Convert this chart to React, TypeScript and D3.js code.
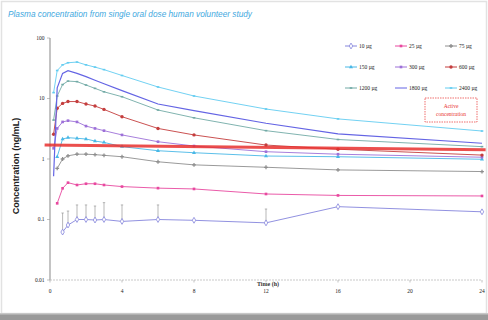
import React from 'react';
import * as d3 from 'd3';

// sampling times (h)
const times = [0.2, 0.4, 0.7, 1, 1.5, 2, 2.5, 3, 4, 6, 8, 12, 16, 24];

// mean plasma concentrations (ng/mL) per dose, null = not sampled
const dose10 = [null, null, 0.062, 0.081, 0.1, 0.1, 0.098, 0.1, 0.093, 0.1, 0.097, 0.088, 0.163, 0.134];
const dose10Upper = [null, null, 0.128, 0.138, 0.174, 0.174, 0.167, 0.19, 0.174, 0.174, null, 0.149, null, null];
const dose25 = [null, 0.185, 0.328, 0.406, 0.372, 0.39, 0.39, 0.372, 0.35, 0.33, 0.32, 0.264, 0.25, 0.245];
const dose75 = [null, 0.7, 1.0, 1.13, 1.2, 1.2, 1.18, 1.15, 1.09, 0.9, 0.8, 0.73, 0.66, 0.62];
const dose150 = [null, 1.09, 2.14, 2.25, 2.2, 2.14, 1.98, 1.88, 1.6, 1.37, 1.27, 1.12, 1.09, 0.99];
const dose300 = [1.5, 3.2, 4.1, 4.3, 4.1, 3.5, 3.2, 2.94, 2.5, 1.93, 1.64, 1.32, 1.2, 1.07];
const dose600 = [2.56, 6.9, 8.3, 8.9, 8.9, 8.1, 7.5, 6.6, 5.0, 3.2, 2.5, 1.7, 1.45, 1.16];
const dose1200 = [4.4, 11, 17, 19.4, 19, 16.7, 14.7, 12.9, 10.7, 6.45, 4.8, 2.94, 2.1, 1.6];
const dose1800 = [0.52, 15, 26, 28.8, 26, 23, 20, 17.5, 13.5, 8.1, 6.3, 3.9, 2.6, 1.82];
const dose2400 = [12.5, 29, 36, 39, 40, 36, 33, 30, 24, 15.5, 11, 6.7, 4.6, 2.9];

const seriesNames = ['10 µg', '25 µg', '75 µg', '150 µg', '300 µg', '600 µg', '1200 µg', '1800 µg', '2400 µg'];
const seriesColors = ['#8585dc', '#e8489f', '#8e8e8e', '#48b8e6', '#9d70d8', '#c43d3d', '#72aaa6', '#6464e4', '#62ccf0'];
const seriesMarkers = ['diamond', 'square', 'cross', 'triangle', 'square', 'circle', 'dash', 'none', 'dash'];
const seriesValues = [dose10, dose25, dose75, dose150, dose300, dose600, dose1200, dose1800, dose2400];

// active concentration reference line
const activeTimes = [-0.3, 24.2];
const activeValues = [1.7, 1.42];

const xTicks = [0, 4, 8, 12, 16, 20, 24];
const yTicks = [100, 10, 1, 0.1, 0.01];
const yTickLabels = ['100', '10', '1', '0.1', '0.01'];

const W = 488;
const H = 320;

const x = d3.scaleLinear().domain([0, 24]).range([50, 482]);
const y = d3.scaleLog().domain([0.01, 100]).range([280, 38]);

function Marker({ kind, cx, cy, color }: { kind: string; cx: number; cy: number; color: string }) {
  if (kind === 'diamond')
    return <path d={d3.symbol(d3.symbolDiamond, 10)()!} transform={`translate(${cx},${cy})`} fill="white" stroke={color} strokeWidth={0.8} />;
  if (kind === 'square')
    return <path d={d3.symbol(d3.symbolSquare, 7)()!} transform={`translate(${cx},${cy})`} fill={color} />;
  if (kind === 'cross')
    return <path d={d3.symbol(d3.symbolCross, 8)()!} transform={`translate(${cx},${cy})`} fill={color} />;
  if (kind === 'triangle')
    return <path d={d3.symbol(d3.symbolTriangle, 7)()!} transform={`translate(${cx},${cy})`} fill={color} />;
  if (kind === 'circle')
    return <circle cx={cx} cy={cy} r={1.7} fill={color} />;
  if (kind === 'dash')
    return <rect x={cx - 1.3} y={cy - 0.8} width={2.6} height={1.6} fill={color} />;
  return null;
}

export default function App() {
  const line = d3
    .line<[number, number | null]>()
    .defined((d) => d[1] != null)
    .x((d) => x(d[0]))
    .y((d) => y(d[1] as number));

  const activeLine = d3
    .line<number>()
    .x((_, i) => x(activeTimes[i]))
    .y((d) => y(d));

  return (
    <svg
      width={W}
      height={H}
      style={{ position: 'absolute', left: 0, top: 0, background: '#fff' }}
      fontFamily="Liberation Serif"
    >
      {/* slide frame */}
      <rect x={1.5} y={1.5} width={W - 3} height={312} fill="#fff" stroke="#e2e2e2" strokeWidth={1.5} />
      <rect x={0} y={314} width={W} height={6} fill="#9a9a9a" />
      <rect x={0} y={313} width={W} height={1.5} fill="#c8c8c8" />

      <text
        x={8}
        y={17}
        fontFamily="Liberation Sans"
        fontStyle="italic"
        fontSize={9.5}
        fill="#3fa9e0"
        textLength={244}
        lengthAdjust="spacingAndGlyphs"
      >
        Plasma  concentration from single oral dose human volunteer study
      </text>

      {/* y axis */}
      <line x1={50} x2={50} y1={y(100)} y2={y(0.01)} stroke="#b5b5b5" strokeWidth={1.6} />
      {yTicks.map((t, i) => (
        <g key={t}>
          <line x1={47} x2={50} y1={y(t)} y2={y(t)} stroke="#999" strokeWidth={0.6} />
          <text x={44.5} y={y(t) + 1.8} fontSize={5.5} textAnchor="end" fill="#222">
            {yTickLabels[i]}
          </text>
        </g>
      ))}
      <text
        transform={`translate(19,166) rotate(-90)`}
        textAnchor="middle"
        fontFamily="Liberation Sans"
        fontWeight="bold"
        fontSize={9}
        fill="#222"
      >
        Concentration (ng/mL)
      </text>

      {/* x axis */}
      <line x1={x(0)} x2={x(24)} y1={280} y2={280} stroke="#bbb" strokeWidth={0.8} strokeDasharray="2,1" />
      {xTicks.map((t) => (
        <g key={t}>
          <line x1={x(t)} x2={x(t)} y1={280} y2={282.5} stroke="#999" strokeWidth={0.6} />
          <text x={x(t)} y={292.5} fontSize={5.5} textAnchor="middle" fill="#222">
            {t}
          </text>
        </g>
      ))}
      <text x={268} y={285.5} fontSize={6} fontWeight="bold" textAnchor="middle" fill="#333">
        Time (h)
      </text>

      {/* error bars for lowest dose */}
      {dose10Upper.map((u, i) =>
        u == null || dose10[i] == null ? null : (
          <g key={'e' + i} stroke="#999" strokeWidth={0.7}>
            <line x1={x(times[i])} x2={x(times[i])} y1={y(dose10[i] as number)} y2={y(u)} />
            <line x1={x(times[i]) - 1.2} x2={x(times[i]) + 1.2} y1={y(u)} y2={y(u)} />
          </g>
        )
      )}

      {/* series */}
      {seriesValues.map((vals, s) => {
        const pts = times.map((t, i) => [t, vals[i]] as [number, number | null]);
        return (
          <g key={seriesNames[s]}>
            <path d={line(pts)!} fill="none" stroke={seriesColors[s]} strokeWidth={s === 7 ? 1.2 : 0.9} />
            {pts
              .filter((p) => p[1] != null)
              .map((p, i) => (
                <Marker key={i} kind={seriesMarkers[s]} cx={x(p[0])} cy={y(p[1] as number)} color={seriesColors[s]} />
              ))}
          </g>
        );
      })}

      {/* active concentration */}
      <path d={activeLine(activeValues)!} fill="none" stroke="#e8302e" strokeWidth={3} opacity={0.85} />
      <rect x={425} y={98} width={52} height={24} fill="#fff" stroke="#e8302e" strokeWidth={0.7} strokeDasharray="1.5,1" />
      <text x={451} y={107.5} fontSize={5.5} textAnchor="middle" fill="#e8302e">
        Active
      </text>
      <text x={451} y={116} fontSize={5.5} textAnchor="middle" fill="#e8302e">
        concentration
      </text>

      {/* legend */}
      {seriesNames.map((name, s) => {
        const col = s % 3;
        const row = Math.floor(s / 3);
        const lx = 345 + col * 50;
        const ly = 46 + row * 21;
        return (
          <g key={'l' + name}>
            <line x1={lx} x2={lx + 12} y1={ly} y2={ly} stroke={seriesColors[s]} strokeWidth={1} />
            <Marker kind={seriesMarkers[s]} cx={lx + 6} cy={ly} color={seriesColors[s]} />
            <text x={lx + 14} y={ly + 1.8} fontSize={5.5} fill="#222">
              {name}
            </text>
          </g>
        );
      })}
    </svg>
  );
}
